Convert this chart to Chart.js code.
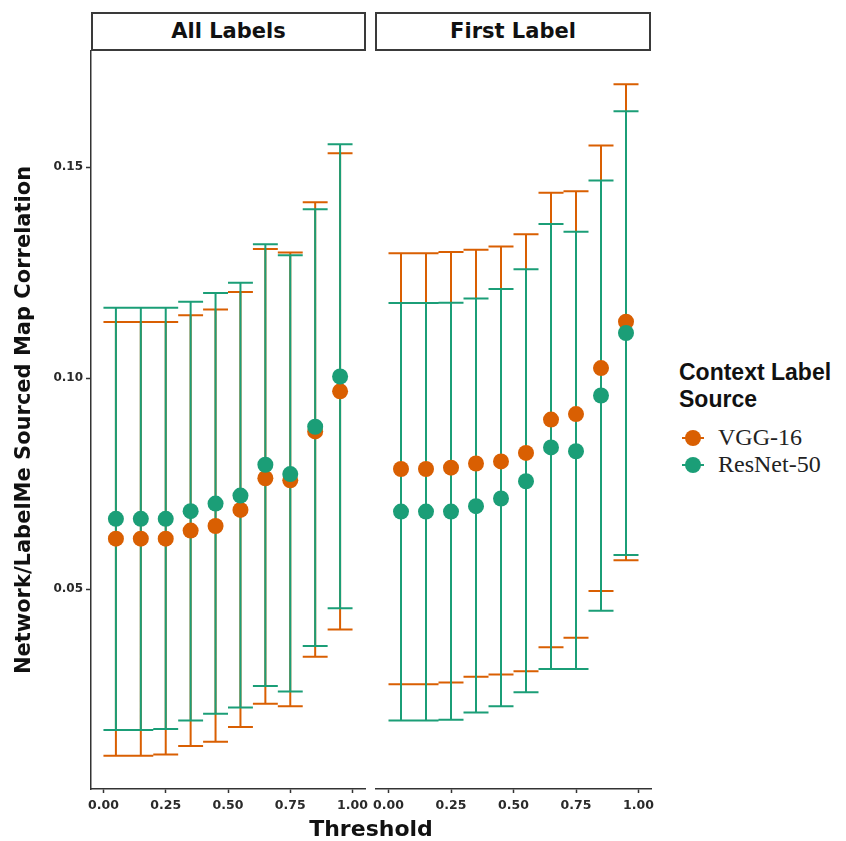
<!DOCTYPE html>
<html>
<head>
<meta charset="utf-8">
<script src="https://cdn.jsdelivr.net/npm/chart.js@4.4.1/dist/chart.umd.min.js"></script>
<style>
html,body{margin:0;padding:0;background:#fff;}
#wrap{position:relative;width:846px;height:841px;overflow:hidden;background:#fff;}
canvas{position:absolute;top:0;}
.strip{position:absolute;top:12px;height:39px;box-sizing:border-box;border:2px solid #3a3a3a;background:#fff;
  font:bold 21px "DejaVu Sans";color:#111;text-align:center;line-height:35px;}
#xtitle{position:absolute;left:271px;width:200px;top:818px;text-align:center;font:bold 22px "DejaVu Sans";line-height:22px;color:#111;}
#legtitle{position:absolute;left:679px;top:359px;font:bold 23px "Liberation Sans";line-height:27px;color:#111;}
.legrow{position:absolute;left:680px;height:27px;font:24px "Liberation Serif";line-height:27px;color:#222;}
.legrow .ln{position:absolute;left:2px;top:13px;width:22px;height:2px;}
.legrow .dot{position:absolute;left:5px;top:6px;width:16px;height:16px;border-radius:50%;}
.legrow .tx{position:absolute;left:38px;top:0;white-space:nowrap;}
</style>
</head>
<body>
<div id="wrap">
  <canvas id="c1" width="380" height="841" style="left:0px"></canvas>
  <canvas id="c2" width="320" height="841" style="left:346px"></canvas>
  <div class="strip" id="s1" style="left:91px;width:275px;"></div>
  <div class="strip" id="s2" style="left:375px;width:276px;"></div>
  <div id="xtitle"></div>
  <div id="legtitle"></div>
  <div id="legend"></div>
</div>
<script>
// ---------------- data ----------------
const panelNames = ['All Labels', 'First Label'];
const seriesNames = ['VGG-16', 'ResNet-50'];
const thresholds = [0.05, 0.15, 0.25, 0.35, 0.45, 0.55, 0.65, 0.75, 0.85, 0.95];
const xTickValues = [0.00, 0.25, 0.50, 0.75, 1.00];
const yTickValues = [0.05, 0.10, 0.15];

// All Labels
const vggAllMean = [0.0620, 0.0620, 0.0620, 0.0639, 0.0650, 0.0688, 0.0763, 0.0758, 0.0874, 0.0969];
const vggAllLow  = [0.0106, 0.0106, 0.0109, 0.0129, 0.0139, 0.0174, 0.0229, 0.0223, 0.0340, 0.0405];
const vggAllHigh = [0.1133, 0.1133, 0.1133, 0.1149, 0.1163, 0.1204, 0.1306, 0.1298, 0.1417, 0.1533];
const resAllMean = [0.0667, 0.0667, 0.0667, 0.0685, 0.0703, 0.0722, 0.0795, 0.0773, 0.0885, 0.1004];
const resAllLow  = [0.0167, 0.0167, 0.0169, 0.0189, 0.0205, 0.0220, 0.0271, 0.0258, 0.0366, 0.0455];
const resAllHigh = [0.1167, 0.1167, 0.1167, 0.1181, 0.1202, 0.1226, 0.1317, 0.1291, 0.1400, 0.1554];

// First Label
const vggFirstMean = [0.0785, 0.0785, 0.0788, 0.0798, 0.0803, 0.0823, 0.0902, 0.0915, 0.1024, 0.1134];
const vggFirstLow  = [0.0275, 0.0275, 0.0279, 0.0293, 0.0298, 0.0306, 0.0363, 0.0385, 0.0496, 0.0569];
const vggFirstHigh = [0.1296, 0.1296, 0.1299, 0.1304, 0.1312, 0.1341, 0.1439, 0.1443, 0.1551, 0.1696];
const resFirstMean = [0.0684, 0.0684, 0.0684, 0.0697, 0.0715, 0.0756, 0.0836, 0.0827, 0.0959, 0.1107];
const resFirstLow  = [0.0189, 0.0189, 0.0191, 0.0208, 0.0223, 0.0256, 0.0311, 0.0311, 0.0449, 0.0581];
const resFirstHigh = [0.1178, 0.1178, 0.1179, 0.1189, 0.1211, 0.1258, 0.1365, 0.1347, 0.1468, 0.1632];

const yTitle = 'Network/LabelMe Sourced Map Correlation';
const xTitle = 'Threshold';
const legendTitle = ['Context Label', 'Source'];

// ---------------- style ----------------
const seriesColors = ['#D95F02', '#1B9E77'];
const capHalf = 0.05;
const axisColor = '#333333';
const tickColor = '#2a2a2a';

// ---------------- build ----------------
function errorBarData(xs, lo, hi) {
  const out = [];
  xs.forEach((x, i) => {
    out.push({x: x - capHalf, y: lo[i]}, {x: x + capHalf, y: lo[i]}, {x: x, y: null});
    out.push({x: x, y: lo[i]}, {x: x, y: hi[i]}, {x: x, y: null});
    out.push({x: x - capHalf, y: hi[i]}, {x: x + capHalf, y: hi[i]}, {x: x, y: null});
  });
  return out;
}
function pointData(xs, m) { return xs.map((x, i) => ({x: x, y: m[i]})); }

function makeDatasets(series) {
  const ds = [];
  series.forEach((s, k) => {
    ds.push({
      type: 'scatter', label: seriesNames[k] + ' error',
      data: errorBarData(thresholds, s.low, s.high),
      showLine: true, spanGaps: false, borderColor: seriesColors[k], borderWidth: 2,
      pointRadius: 0, pointHoverRadius: 0, fill: false, tension: 0, borderCapStyle: 'butt',
      order: 10 - k
    });
  });
  series.forEach((s, k) => {
    ds.push({
      type: 'scatter', label: seriesNames[k],
      data: pointData(thresholds, s.mean),
      showLine: false, backgroundColor: seriesColors[k], borderColor: seriesColors[k],
      pointRadius: 8, pointBorderWidth: 0, pointHoverRadius: 8,
      order: 5 - k
    });
  });
  return ds;
}

const tickFontX = {family: '"DejaVu Sans"', size: 12.5, weight: 'bold'};
const tickFontY = {family: '"DejaVu Sans"', size: 12, weight: 'bold'};

function makeChart(id, series, showY, padLeft, padRight) {
  const yScale = {
    type: 'linear', min: 0.0027, max: 0.1775,
    display: showY,
    afterBuildTicks: s => { s.ticks = yTickValues.map(v => ({value: v})); },
    afterFit: s => { s.width = showY ? 91 : 0; },
    ticks: {callback: v => Number(v).toFixed(2), font: tickFontY, color: tickColor, padding: 3},
    grid: {display: true, drawOnChartArea: false, drawTicks: true, tickLength: 5, color: axisColor, tickWidth: 1.5},
    border: {display: true, color: axisColor, width: 1.5},
    title: {display: showY, text: yTitle, color: '#111',
      font: {family: '"DejaVu Sans"', size: 21, weight: 'bold'}, padding: {top: 12, bottom: 0}}
  };
  return new Chart(document.getElementById(id), {
    type: 'scatter',
    data: {datasets: makeDatasets(series)},
    options: {
      responsive: false, animation: false, devicePixelRatio: 1,
      layout: {padding: {top: 51, bottom: 0, left: padLeft, right: padRight}},
      plugins: {legend: {display: false}, tooltip: {enabled: false}, title: {display: false}},
      events: [],
      scales: {
        x: {
          type: 'linear', min: -0.05, max: 1.05,
          afterBuildTicks: s => { s.ticks = xTickValues.map(v => ({value: v})); },
          afterFit: s => { s.height = 52; },
          ticks: {callback: v => Number(v).toFixed(2), font: tickFontX, color: tickColor, padding: 5, maxRotation: 0},
          grid: {display: true, drawOnChartArea: false, drawTicks: true, tickLength: 4, color: axisColor, tickWidth: 1.5},
          border: {display: true, color: axisColor, width: 1.5}
        },
        y: yScale
      }
    }
  });
}

makeChart('c1', [
  {mean: vggAllMean, low: vggAllLow, high: vggAllHigh},
  {mean: resAllMean, low: resAllLow, high: resAllHigh}
], true, 0, 15);
makeChart('c2', [
  {mean: vggFirstMean, low: vggFirstLow, high: vggFirstHigh},
  {mean: resFirstMean, low: resFirstLow, high: resFirstHigh}
], false, 30, 15);

document.getElementById('s1').textContent = panelNames[0];
document.getElementById('s2').textContent = panelNames[1];
document.getElementById('xtitle').textContent = xTitle;
document.getElementById('legtitle').innerHTML = legendTitle.join('<br>');
const leg = document.getElementById('legend');
seriesNames.forEach((n, k) => {
  const row = document.createElement('div');
  row.className = 'legrow';
  row.style.top = (424 + 27 * k) + 'px';
  row.innerHTML = '<div class="ln" style="background:' + seriesColors[k] + '"></div>' +
    '<div class="dot" style="background:' + seriesColors[k] + '"></div>' +
    '<div class="tx"></div>';
  row.querySelector('.tx').textContent = n;
  leg.appendChild(row);
});
</script>
</body>
</html>
